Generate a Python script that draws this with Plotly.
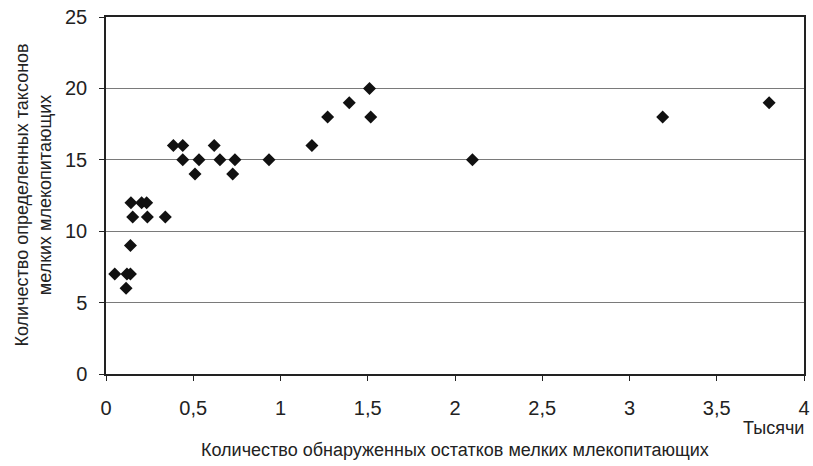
import plotly.graph_objects as go

# Remains found (thousands) and number of taxa identified
remains_thousands = [0.05, 0.12, 0.14, 0.115, 0.14,
                     0.143, 0.204, 0.233,
                     0.153, 0.237, 0.34,
                     0.386, 0.44, 0.62, 1.18,
                     0.44, 0.533, 0.653, 0.739, 0.934, 2.10,
                     0.51, 0.726,
                     1.27, 1.517, 3.19,
                     1.394, 3.80,
                     1.51]
taxa_count = [7, 7, 7, 6, 9,
              12, 12, 12,
              11, 11, 11,
              16, 16, 16, 16,
              15, 15, 15, 15, 15, 15,
              14, 14,
              18, 18, 18,
              19, 19,
              20]

x_tickvals = [0, 0.5, 1, 1.5, 2, 2.5, 3, 3.5, 4]
x_ticktext = ["0", "0,5", "1", "1,5", "2", "2,5", "3", "3,5", "4"]
y_tickvals = [0, 5, 10, 15, 20, 25]

font_family = "Liberation Sans, Arial, sans-serif"
text_color = "#222222"

fig = go.Figure()
fig.add_trace(go.Scatter(
    x=remains_thousands, y=taxa_count, mode="markers",
    marker=dict(symbol="diamond", size=10, color="#111111", line=dict(width=0)),
    showlegend=False, cliponaxis=False,
))

fig.update_layout(
    width=813, height=466,
    margin=dict(l=106, r=9, t=17, b=92),
    plot_bgcolor="white", paper_bgcolor="white",
    font=dict(family=font_family, color=text_color),
    xaxis=dict(
        range=[0, 4], tickvals=x_tickvals, ticktext=x_ticktext,
        automargin=False,
        showgrid=False, zeroline=False,
        showline=True, linecolor="#222222", linewidth=1.5, mirror=True,
        ticks="outside", ticklen=5, tickcolor="#222222",
        ticklabelstandoff=10,
        tickfont=dict(size=20, family=font_family, color=text_color),
    ),
    yaxis=dict(
        range=[0, 25], tickvals=y_tickvals,
        automargin=False,
        showgrid=True, gridcolor="#7a7a7a", gridwidth=1,
        zeroline=False,
        showline=True, linecolor="#222222", linewidth=1.5, mirror=True,
        ticks="outside", ticklen=5, tickcolor="#222222",
        ticklabelstandoff=8,
        tickfont=dict(size=20, family=font_family, color=text_color),
    ),
    annotations=[
        dict(text="Количество определенных таксонов<br>мелких млекопитающих",
             xref="paper", yref="paper", x=0, y=0.5, xanchor="center", yanchor="middle",
             xshift=-73, textangle=-90, showarrow=False,
             font=dict(size=18, family=font_family, color=text_color)),
        dict(text="Тысячи", xref="paper", yref="paper", x=1.0, y=0, xanchor="right",
             yanchor="middle", yshift=-54, xshift=2, showarrow=False,
             font=dict(size=18, family=font_family, color=text_color)),
        dict(text="Количество обнаруженных остатков мелких млекопитающих",
             xref="paper", yref="paper", x=0.5, y=0, xanchor="center", yanchor="middle",
             yshift=-76, showarrow=False,
             font=dict(size=18, family=font_family, color=text_color)),
    ],
)

fig.write_html("out.html", config={"displayModeBar": False},
               post_script="document.body.style.margin='0';")
